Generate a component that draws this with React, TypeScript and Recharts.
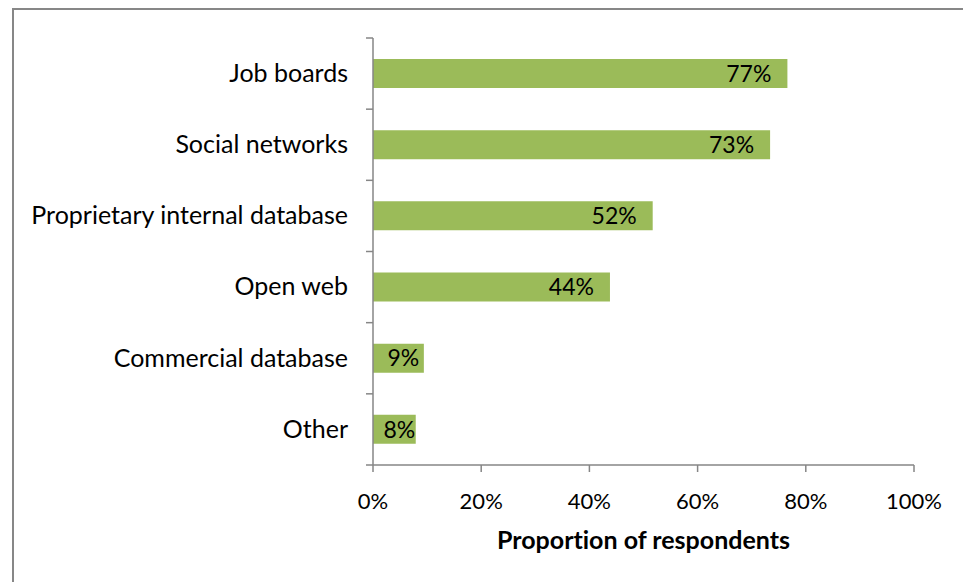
import React from "react";
import { BarChart, Bar, XAxis, YAxis, LabelList, Label } from "recharts";

const categories = [
  "Job boards",
  "Social networks",
  "Proprietary internal database",
  "Open web",
  "Commercial database",
  "Other",
];
const proportions = [76.6, 73.4, 51.7, 43.8, 9.4, 7.9];
const xTicks = [0, 20, 40, 60, 80, 100];
const xAxisTitle = "Proportion of respondents";

const data = categories.map((c, i) => ({ name: c, value: proportions[i] }));

const FONT = "Lato, 'Noto Sans', sans-serif";
const AXIS = "#868686";
const BAR = "#9BBB59";
const NOLIG = { fontVariantLigatures: "none" as const, fontFeatureSettings: '"liga" 0, "clig" 0' };

const BarLabel = (props: any) => {
  const { x, y, width, height, value } = props;
  const txt = `${Math.round(value)}%`;
  const cy = y + height / 2;
  if (width > 80) {
    return (
      <text x={x + width - 16} y={cy} dy="0.36em" textAnchor="end" fontSize={23} fontFamily={FONT} fill="#000">
        {txt}
      </text>
    );
  }
  return (
    <text x={x + width / 2 + 5} y={cy} dy="0.36em" textAnchor="middle" fontSize={23} fontFamily={FONT} fill="#000">
      {txt}
    </text>
  );
};

const CategoryTick = (props: any) => {
  const { x, y, payload, index, visibleTicksCount } = props;
  const half = payload && typeof payload.offset === "number" ? payload.offset : 0;
  const axisX = x + 25;
  const isLast = index === (visibleTicksCount ?? categories.length) - 1;
  return (
    <g>
      <line x1={axisX - 7} x2={axisX} y1={y - half} y2={y - half} stroke={AXIS} strokeWidth={1.5} />
      {isLast && (
        <line x1={axisX - 7} x2={axisX} y1={y + half} y2={y + half} stroke={AXIS} strokeWidth={1.5} />
      )}
      <text x={x} y={y} dy="0.33em" textAnchor="end" fontSize={25} fontFamily={FONT} fill="#000" style={NOLIG}>
        {payload.value}
      </text>
    </g>
  );
};

const AxisTitle = (props: any) => {
  const vb = props.viewBox || {};
  const cx = vb.x + vb.width / 2;
  const by = vb.y + vb.height - 1;
  return (
    <text x={cx} y={by} textAnchor="middle" fontSize={25} fontWeight="bold" fontFamily={FONT} fill="#000" style={NOLIG}>
      {xAxisTitle}
    </text>
  );
};

export default function App() {
  return (
    <div style={{ position: "absolute", left: 0, top: 0, width: 963, height: 582, overflow: "hidden", background: "#fff" }}>
      <div
        style={{
          position: "absolute",
          left: 12,
          top: 8,
          width: 1200,
          height: 1200,
          borderTop: "2px solid #878787",
          borderLeft: "2px solid #878787",
          boxSizing: "border-box",
        }}
      />
      <div style={{ position: "absolute", left: 0, top: 0 }}>
        <BarChart
          width={963}
          height={582}
          data={data}
          layout="vertical"
          margin={{ top: 38, right: 49, bottom: 32, left: 0 }}
          barCategoryGap={0}
        >
          <XAxis
            type="number"
            domain={[0, 100]}
            ticks={xTicks}
            tickFormatter={(v: number) => `${v}%`}
            height={85}
            tickSize={7}
            tickMargin={21}
            stroke={AXIS}
            tick={{ fill: "#000", fontSize: 22, fontFamily: FONT }}
            axisLine={{ stroke: AXIS, strokeWidth: 1.5 }}
            tickLine={{ stroke: AXIS, strokeWidth: 1.5 }}
            interval={0}
          >
            <Label content={<AxisTitle />} position="insideBottom" />
          </XAxis>
          <YAxis
            type="category"
            dataKey="name"
            width={373}
            tickSize={0}
            tickMargin={25}
            axisLine={{ stroke: AXIS, strokeWidth: 1.5 }}
            tickLine={false}
            interval={0}
            tick={<CategoryTick />}
          />
          <Bar dataKey="value" fill={BAR} barSize={29} isAnimationActive={false}>
            <LabelList dataKey="value" content={BarLabel} />
          </Bar>
        </BarChart>
      </div>
    </div>
  );
}
